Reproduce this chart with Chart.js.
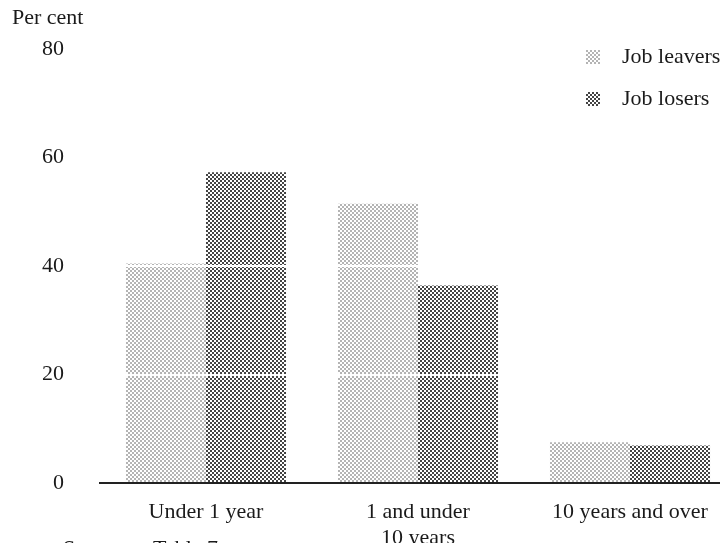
<!DOCTYPE html>
<html>
<head>
<meta charset="utf-8">
<script src="https://cdn.jsdelivr.net/npm/chart.js@4.4.1/dist/chart.umd.min.js"></script>
<style>
  html, body { margin: 0; padding: 0; background: #fff; overflow: hidden; }
  #wrap { width: 720px; height: 543px; overflow: hidden; }
  canvas { display: block; }
</style>
</head>
<body>
<div id="wrap"><canvas id="chart" width="736" height="543"></canvas></div>
<script>
const categories = ['Under 1 year', ['1 and under', '10 years'], '10 years and over'];
const jobLeavers = [40.5, 51.5, 7.5];
const jobLosers = [57.3, 36.4, 6.9];
const yTicks = [0, 20, 40, 60, 80];

const serif = '"Liberation Serif", "Times New Roman", serif';
const ink = '#1a1a1a';

// dotted screen fills, like the halftone in the print
function makePattern(dot, size) {
    const c = document.createElement('canvas');
    c.width = 4; c.height = 4;
    const g = c.getContext('2d');
    g.fillStyle = '#fff';
    g.fillRect(0, 0, 4, 4);
    g.fillStyle = dot;
    g.fillRect(0, 0, size, size);
    g.fillRect(2, 2, size, size);
    return g.createPattern(c, 'repeat');
}

const ctx = document.getElementById('chart').getContext('2d');
const leaverFill = makePattern('#b4b4b4', 2);
const loserFill = makePattern('#444', 2);

const textPlugin = {
    id: 'textPlugin',
    afterDraw(chart) {
        const c = chart.ctx;
        c.save();
        c.fillStyle = ink;
        c.font = '22px ' + serif;
        c.textBaseline = 'middle';
        c.textAlign = 'left';
        c.fillText('Per cent', 12, 18);

        // legend
        chart.data.datasets.forEach((ds, i) => {
            const y = 57 + i * 42;
            c.fillStyle = ds.backgroundColor;
            c.fillRect(586, y - 7, 14, 14);
            c.fillStyle = ink;
            c.fillText(ds.label, 622, y);
        });

        // source line, cut off by the bottom edge
        c.textBaseline = 'alphabetic';
        c.fillText('Source:', 63, 555);
        c.fillText('Table 7', 153, 555);
        c.restore();
    }
};

new Chart(ctx, {
    type: 'bar',
    data: {
        labels: categories,
        datasets: [{
            label: 'Job leavers',
            data: jobLeavers,
            backgroundColor: leaverFill,
            borderWidth: 0
        }, {
            label: 'Job losers',
            data: jobLosers,
            backgroundColor: loserFill,
            borderWidth: 0
        }]
    },
    options: {
        responsive: false,
        animation: false,
        devicePixelRatio: 1,
        layout: {
            padding: { left: 0, right: 0, top: 43, bottom: 0 }
        },
        datasets: {
            bar: { categoryPercentage: 0.755, barPercentage: 1.0 }
        },
        scales: {
            x: {
                afterFit(scale) { scale.height = 60; },
                grid: { display: false },
                border: { display: true, color: '#222', width: 2, z: 2 },
                ticks: {
                    color: ink,
                    padding: 9,
                    maxRotation: 0,
                    autoSkip: false,
                    font: { family: serif, size: 22, lineHeight: 1.15 }
                }
            },
            y: {
                min: 0,
                max: 80,
                afterFit(scale) { scale.width = 100; },
                afterBuildTicks(scale) { scale.ticks = yTicks.map(v => ({ value: v })); },
                border: { display: false },
                grid: {
                    z: 1,
                    drawTicks: false,
                    lineWidth: 2,
                    color: c => (c.tick && c.tick.value === 0) ? 'rgba(0,0,0,0)' : '#ffffff'
                },
                ticks: {
                    color: ink,
                    padding: 36,
                    font: { family: serif, size: 22 }
                }
            }
        },
        plugins: {
            legend: { display: false },
            tooltip: { enabled: false }
        }
    },
    plugins: [textPlugin]
});
</script>
</body>
</html>
